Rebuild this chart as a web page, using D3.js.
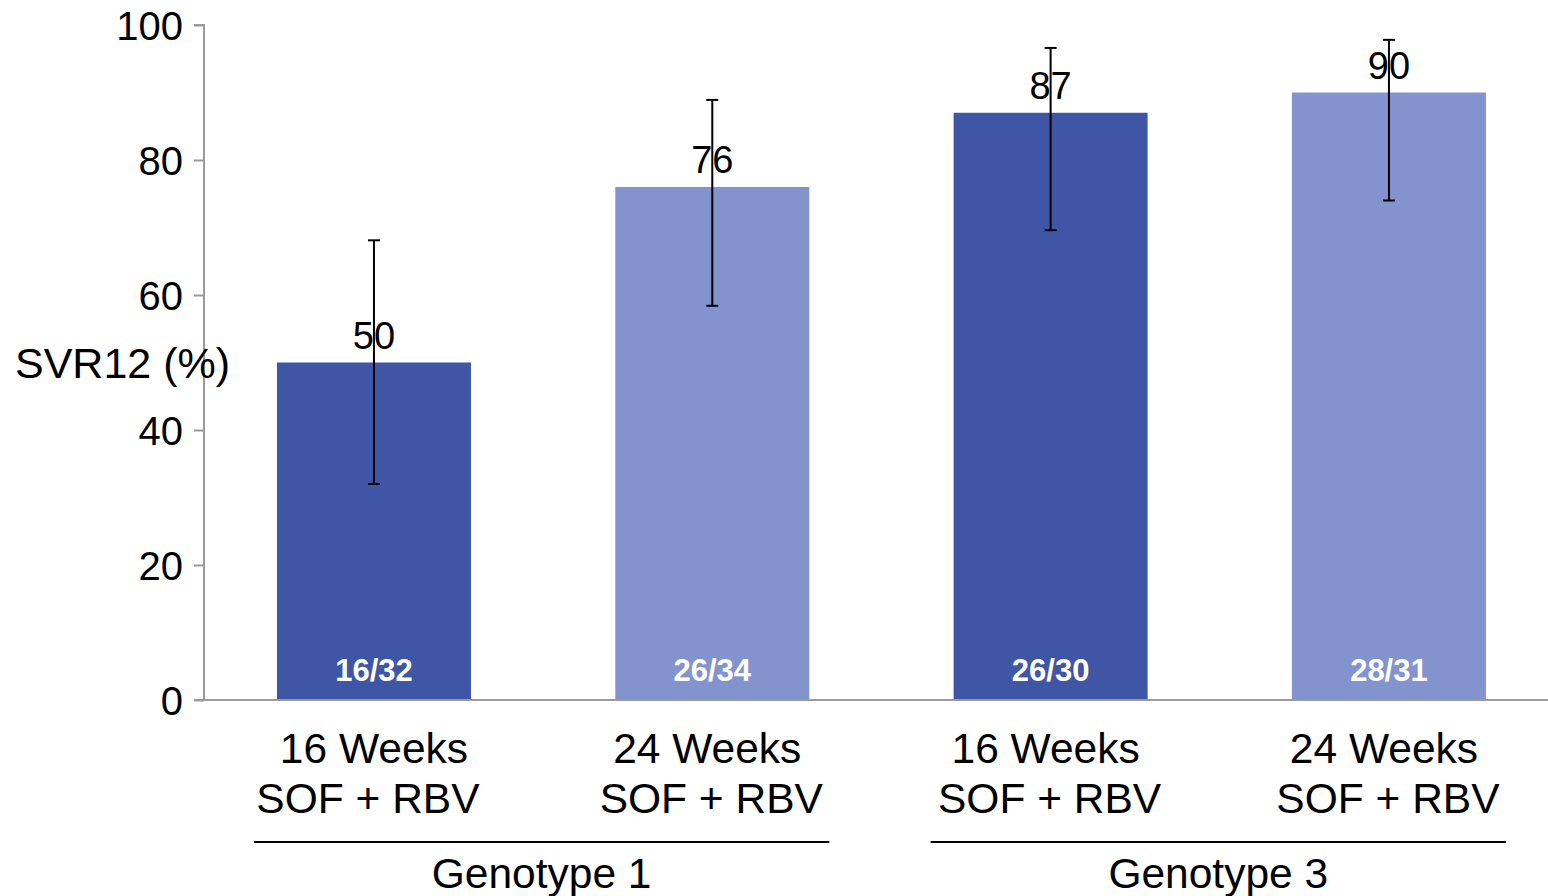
<!DOCTYPE html>
<html>
<head>
<meta charset="utf-8">
<script src="https://cdn.jsdelivr.net/npm/d3@7"></script>
<style>
	body { margin: 0; background: white; }
	#outer { width: 1548px; height: 896px; }
</style>
</head>
<body>
<div id="outer"></div>
<script>
////////// Data //////////
const categories = ['g1_16', 'g1_24', 'g3_16', 'g3_24'];
const weekLabels = ['16 Weeks', '24 Weeks', '16 Weeks', '24 Weeks'];
const regimenLabels = ['SOF + RBV', 'SOF + RBV', 'SOF + RBV', 'SOF + RBV'];
const svrValues = [50, 76, 87, 90];
const errLow = [32, 58.4, 69.6, 74];
const errHigh = [68.1, 88.9, 96.6, 97.8];
const patientCounts = ['16/32', '26/34', '26/30', '28/31'];
const barShades = ['dark', 'light', 'dark', 'light'];
const yTicks = [0, 20, 40, 60, 80, 100];
const groups = [
	{ name: 'Genotype 1', first: 'g1_16', last: 'g1_24' },
	{ name: 'Genotype 3', first: 'g3_16', last: 'g3_24' }
];

function drawChart () {
	// ********************************************* DEFINE ******************************************************* //
	const width = 1548;
	const height = 896;
	const axisX = 204;
	const font = 'Arial, "Liberation Sans", sans-serif';
	const axisColor = '#9a9a9a';
	const colors = { dark: '#3f56a6', light: '#8393ce' };

	const x = d3.scaleBand().domain(categories).range([204.8, 1558.1]).paddingInner(0.4266).paddingOuter(0.2133);
	const y = d3.scaleLinear().domain([0, 100]).range([700, 25]);

	const svg = d3.select('#outer').append('svg')
		.attr('width', width)
		.attr('height', height)
		.style('font-family', font);

	// ********************************************* BARS ******************************************************* //
	const bars = svg.append('g').attr('class', 'bars');
	bars.selectAll('rect')
		.data(categories)
		.enter().append('rect')
		.attr('x', d => x(d))
		.attr('width', x.bandwidth())
		.attr('y', (d, i) => y(svrValues[i]))
		.attr('height', (d, i) => y(0) - y(svrValues[i]))
		.attr('fill', (d, i) => colors[barShades[i]]);

	// counts inside bars
	bars.selectAll('text.count')
		.data(categories)
		.enter().append('text')
		.attr('class', 'count')
		.attr('x', d => x(d) + x.bandwidth() / 2)
		.attr('y', y(0) - 19)
		.attr('text-anchor', 'middle')
		.attr('fill', 'white')
		.style('font-size', '31px')
		.style('font-weight', 'bold')
		.text((d, i) => patientCounts[i]);

	// ********************************************* AXES ******************************************************* //
	const yAxis = svg.append('g')
		.attr('transform', `translate(${axisX},0)`)
		.call(d3.axisLeft(y).tickValues(yTicks).tickSize(10).tickPadding(11));
	yAxis.select('.domain').attr('stroke', axisColor).attr('stroke-width', 2).attr('d', `M-10,${y(100)}H0V${y(0)}`);
	yAxis.selectAll('.tick line').attr('stroke', axisColor).attr('stroke-width', 2);
	yAxis.selectAll('.tick text')
		.attr('fill', 'black')
		.attr('dy', '0.36em')
		.style('font-size', '40px')
		.style('font-family', font);

	// baseline
	svg.append('line')
		.attr('x1', axisX - 10).attr('x2', width)
		.attr('y1', y(0)).attr('y2', y(0))
		.attr('stroke', axisColor).attr('stroke-width', 2);

	// ********************************************* ERROR BARS + VALUES ******************************************************* //
	const errGroup = svg.append('g').attr('class', 'errors').attr('stroke', 'black').attr('stroke-width', 2);
	categories.forEach((c, i) => {
		const cx = x(c) + x.bandwidth() / 2;
		errGroup.append('line').attr('x1', cx).attr('x2', cx).attr('y1', y(errLow[i])).attr('y2', y(errHigh[i]));
		errGroup.append('line').attr('x1', cx - 6).attr('x2', cx + 6).attr('y1', y(errLow[i])).attr('y2', y(errLow[i]));
		errGroup.append('line').attr('x1', cx - 6).attr('x2', cx + 6).attr('y1', y(errHigh[i])).attr('y2', y(errHigh[i]));
	});

	svg.append('g').selectAll('text')
		.data(categories)
		.enter().append('text')
		.attr('x', d => x(d) + x.bandwidth() / 2)
		.attr('y', (d, i) => y(svrValues[i]) - 14)
		.attr('text-anchor', 'middle')
		.style('font-size', '38px')
		.text((d, i) => svrValues[i]);

	// ********************************************* LABELS ******************************************************* //
	const catLabels = svg.append('g').style('font-size', '42.5px').attr('text-anchor', 'middle');
	categories.forEach((c, i) => {
		const cx = x(c) + x.bandwidth() / 2;
		catLabels.append('text').attr('x', i === 0 ? cx : cx - 5).attr('y', 763).text(weekLabels[i]);
		catLabels.append('text').attr('x', i === 0 ? cx - 6 : cx - 1).attr('y', 813).text(regimenLabels[i]);
	});

	groups.forEach(g => {
		const x1 = x(g.first) + x.bandwidth() / 2 - 120;
		const x2 = x(g.last) + x.bandwidth() / 2 + 117;
		svg.append('line')
			.attr('x1', x1).attr('x2', x2)
			.attr('y1', 842).attr('y2', 842)
			.attr('stroke', 'black').attr('stroke-width', 2);
		svg.append('text')
			.attr('x', (x1 + x2) / 2)
			.attr('y', 888)
			.attr('text-anchor', 'middle')
			.style('font-size', '42.5px')
			.text(g.name);
	});

	svg.append('text')
		.attr('x', 15)
		.attr('y', 378)
		.style('font-size', '43px')
		.text('SVR12 (%)');
}

drawChart();
</script>
</body>
</html>
